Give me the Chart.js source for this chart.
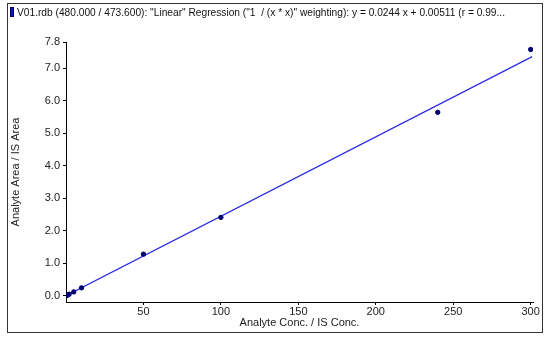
<!DOCTYPE html>
<html>
<head>
<meta charset="utf-8">
<script src="https://cdn.jsdelivr.net/npm/chart.js@4/dist/chart.umd.min.js"></script>
<style>
  html, body { margin: 0; padding: 0; background: #fff; }
  #wrap { width: 550px; height: 340px; position: relative; }
</style>
</head>
<body>
<div id="wrap"><canvas id="c"></canvas></div>
<script>
// Calibration standards
const concentrations = [0.5, 1, 2, 5, 10, 50, 100, 240, 300];
const areaRatios = [0.012, 0.025, 0.05, 0.12, 0.245, 1.28, 2.41, 5.64, 7.57];
// Regression line endpoints
const fitX = [0, 301];
const fitY = [0.005, 7.35];
// Tick labels
const yTicks = [0, 1, 2, 3, 4, 5, 6, 7, 7.8];
const xTicks = [50, 100, 150, 200, 250, 300];
const headerText = 'V01.rdb (480.000 / 473.600): "Linear" Regression ("1  / (x * x)" weighting): y = 0.0244 x + 0.00511 (r = 0.99...';
const xTitle = 'Analyte Conc. / IS Conc.';
const yTitle = 'Analyte Area / IS Area';

const FONT = 'Liberation Sans, Arial, sans-serif';

const framePlugin = {
  id: 'frame',
  afterDraw(chart) {
    const ctx = chart.ctx;
    ctx.save();
    ctx.strokeStyle = '#333';
    ctx.lineWidth = 1;
    ctx.strokeRect(7.5, 3.5, 535, 329);
    // header legend swatch
    ctx.fillStyle = '#1010c8';
    ctx.fillRect(10, 7, 4, 10);
    ctx.strokeStyle = '#000060';
    ctx.strokeRect(10.5, 7.5, 3, 9);
    ctx.fillStyle = '#111';
    ctx.font = '10.2px ' + FONT;
    ctx.textBaseline = 'alphabetic';
    ctx.textAlign = 'left';
    ctx.fillText(headerText, 17, 16);
    ctx.restore();
  }
};

new Chart(document.getElementById('c'), {
  type: 'scatter',
  data: {
    datasets: [
      {
        type: 'line',
        label: 'fit',
        data: fitX.map((x, i) => ({ x, y: fitY[i] })),
        borderColor: '#2a2ae6',
        borderWidth: 1.2,
        pointRadius: 0,
        fill: false,
        order: 2
      },
      {
        label: 'standards',
        data: concentrations.map((x, i) => ({ x, y: areaRatios[i] })),
        backgroundColor: '#000070',
        borderColor: '#000070',
        pointRadius: 2.2,
        pointStyle: 'circle',
        order: 1
      }
    ]
  },
  options: {
    responsive: true,
    maintainAspectRatio: false,
    animation: false,
    layout: { padding: { left: 0, top: 42, right: 17, bottom: 0 } },
    plugins: { legend: { display: false }, tooltip: { enabled: false } },
    scales: {
      x: {
        type: 'linear',
        min: 0,
        max: 301.5,
        afterBuildTicks(scale) { scale.ticks = xTicks.map(v => ({ value: v })); },
        afterFit(scale) { scale.height = 38; },
        ticks: {
          color: '#222',
          font: { family: FONT, size: 11 },
          padding: 0,
          maxRotation: 0,
          callback: v => String(v)
        },
        grid: { drawOnChartArea: false, drawTicks: true, tickLength: 3, color: '#000' },
        border: { display: true, color: '#000', width: 1 },
        title: {
          display: true,
          text: xTitle,
          color: '#222',
          font: { family: FONT, size: 11 },
          padding: { top: 0, bottom: 10.5 }
        }
      },
      y: {
        type: 'linear',
        min: -0.19,
        max: 7.8,
        afterBuildTicks(scale) { scale.ticks = yTicks.map(v => ({ value: v })); },
        afterFit(scale) { scale.width = 66; },
        ticks: {
          color: '#222',
          font: { family: FONT, size: 11 },
          padding: 3,
          callback: v => Number(v).toFixed(1)
        },
        grid: { drawOnChartArea: false, drawTicks: true, tickLength: 3, color: '#000' },
        border: { display: true, color: '#000', width: 1 },
        title: {
          display: true,
          text: yTitle,
          color: '#222',
          font: { family: FONT, size: 11 },
          padding: { top: 9, bottom: 0 }
        }
      }
    }
  },
  plugins: [framePlugin]
});
</script>
</body>
</html>
